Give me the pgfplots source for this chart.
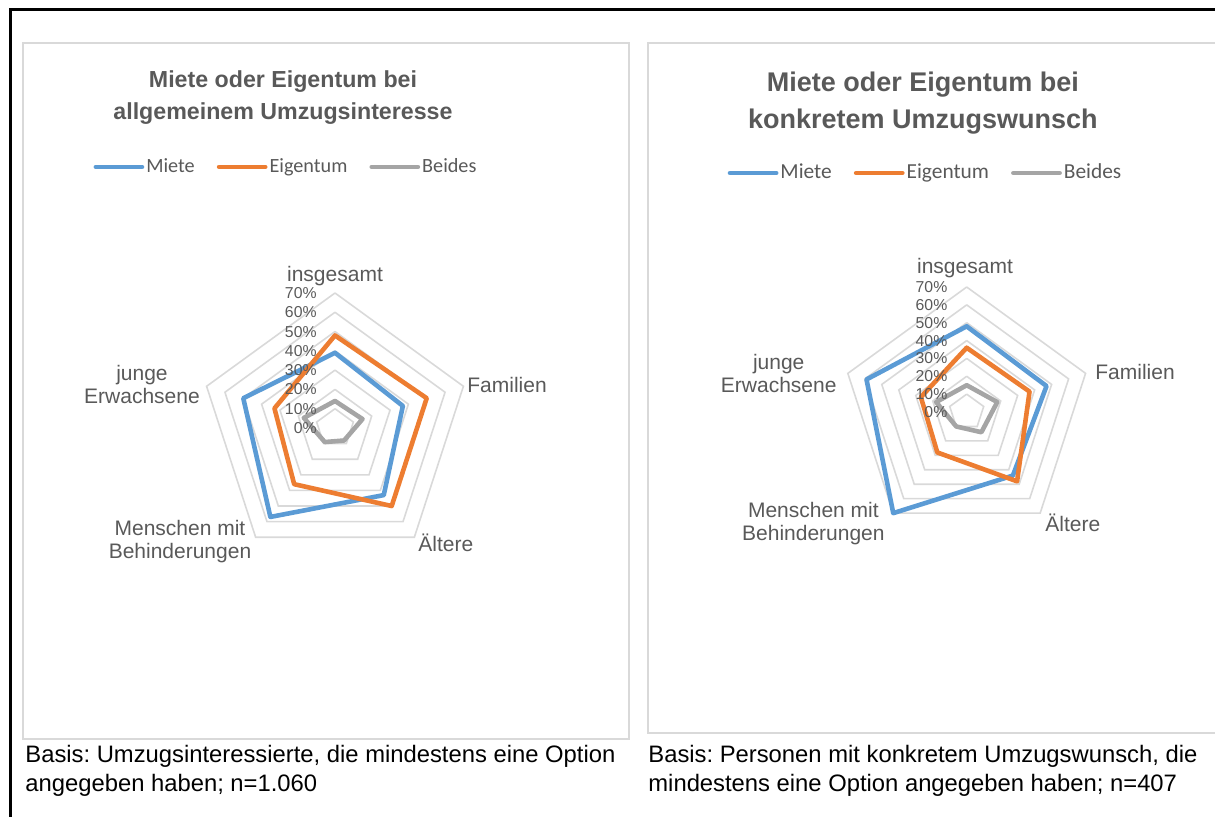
\documentclass[border=0pt]{standalone}
\usepackage{fontspec}
\setmainfont{Liberation Sans}
\newfontfamily\carlito{Carlito}
\usepackage{pgfplots}
\pgfplotsset{compat=1.18}
\usepgfplotslibrary{polar}
\definecolor{miete}{HTML}{5B9BD5}
\definecolor{eigen}{HTML}{ED7D31}
\definecolor{beides}{HTML}{A5A5A5}
\definecolor{gridc}{HTML}{D9D9D9}
\definecolor{txt}{HTML}{595959}
\pgfplotsset{
  radar/.style={
    scale only axis, width=#1, height=#1,
    xmin=0, xmax=360, ymin=0, ymax=70,
    axis line style={draw=none}, xtick=\empty, ytick=\empty,
    clip=false, anchor=origin,
    legend columns=3,
    legend cell align=left,
    legend style={draw=none, fill=none, text=txt, anchor=center,
      nodes={inner sep=1pt},
      /tikz/every even column/.append style={column sep=10pt}},
    legend image code/.code={\draw[##1, line width=2.4pt, line cap=round] (0pt,0pt) -- (23pt,0pt);},
  },
  gridline/.style={gridc, line width=0.8pt, forget plot},
  series/.style={#1, line width=2.3pt, line join=round, line cap=round},
}
\newcommand{\tickf}{\fontsize{7.9}{9}\selectfont}
\newcommand{\catf}{\fontsize{10.5}{11.5}\selectfont}
\frenchspacing
\begin{document}
\frenchspacing
\begin{tikzpicture}[x=0.5pt,y=0.5pt]
\clip (0,0) rectangle (1215,816);
\coordinate (cL) at (335,388);
\coordinate (cR) at (966.7,404);
% boxes and frame
\draw[gridc, line width=0.75pt] (23,773) rectangle (629,77);
\draw[gridc, line width=0.75pt] (648,773) rectangle (1240,83);
\draw[black, line width=1.5pt] (10.5,-10) -- (10.5,806.5) -- (1240,806.5);

% ---------------- left chart
\begin{polaraxis}[radar=135pt, at={(cL)},
  legend style={at={(0.3185,1.4667)}, font=\carlito\fontsize{10.1}{12}\selectfont}]
\addplot[gridline] coordinates {(90,10) (18,10) (306,10) (234,10) (162,10) (90,10)};
\addplot[gridline] coordinates {(90,20) (18,20) (306,20) (234,20) (162,20) (90,20)};
\addplot[gridline] coordinates {(90,30) (18,30) (306,30) (234,30) (162,30) (90,30)};
\addplot[gridline] coordinates {(90,40) (18,40) (306,40) (234,40) (162,40) (90,40)};
\addplot[gridline] coordinates {(90,50) (18,50) (306,50) (234,50) (162,50) (90,50)};
\addplot[gridline] coordinates {(90,60) (18,60) (306,60) (234,60) (162,60) (90,60)};
\addplot[gridline] coordinates {(90,70) (18,70) (306,70) (234,70) (162,70) (90,70)};
\addplot[series=miete] coordinates {(90,39) (18,37) (306,43) (234,57) (162,50) (90,39)};
\addlegendentry{Miete}
\addplot[series=eigen] coordinates {(90,48) (18,50) (306,50) (234,36) (162,33) (90,48)};
\addlegendentry{Eigentum}
\addplot[series=beides] coordinates {(90,14) (18,15) (306,8) (234,9) (162,17) (90,14)};
\addlegendentry{Beides}
\foreach \r in {0,10,...,70}{
  \edef\temp{\noexpand\node[anchor=east, inner sep=0pt, font=\noexpand\tickf, text=txt] at ([xshift=-9pt]axis cs:90,\r) {\r\noexpand\%};}
  \temp
}
\node[inner sep=0pt, font=\catf, text=txt] at ([yshift=76pt]axis cs:0,0) {insgesamt};
\node[anchor=west, inner sep=0pt, font=\catf, text=txt] at ([xshift=66pt,yshift=21.5pt]axis cs:0,0) {Familien};
\node[anchor=west, inner sep=0pt, font=\catf, text=txt] at ([xshift=41.5pt,yshift=-57.5pt]axis cs:0,0) {Ältere};
\node[inner sep=0pt, align=center, font=\catf, text=txt] at ([xshift=-77.5pt,yshift=-56.75pt]axis cs:0,0) {Menschen mit\\Behinderungen};
\node[inner sep=0pt, align=center, font=\catf, text=txt] at ([xshift=-96.5pt,yshift=21.9pt]axis cs:0,0) {junge\\Erwachsene};
\node[inner sep=0pt, align=center, font=\bfseries\fontsize{11.6}{16}\selectfont, text=txt] at ([xshift=-26pt,yshift=165pt]axis cs:0,0) {Miete oder Eigentum bei\\allgemeinem Umzugsinteresse};
\end{polaraxis}

% ---------------- right chart
\begin{polaraxis}[radar=125pt, at={(cR)},
  legend style={at={(0.3352,1.456)}, font=\carlito\fontsize{10.7}{12}\selectfont}]
\addplot[gridline] coordinates {(90,10) (18,10) (306,10) (234,10) (162,10) (90,10)};
\addplot[gridline] coordinates {(90,20) (18,20) (306,20) (234,20) (162,20) (90,20)};
\addplot[gridline] coordinates {(90,30) (18,30) (306,30) (234,30) (162,30) (90,30)};
\addplot[gridline] coordinates {(90,40) (18,40) (306,40) (234,40) (162,40) (90,40)};
\addplot[gridline] coordinates {(90,50) (18,50) (306,50) (234,50) (162,50) (90,50)};
\addplot[gridline] coordinates {(90,60) (18,60) (306,60) (234,60) (162,60) (90,60)};
\addplot[gridline] coordinates {(90,70) (18,70) (306,70) (234,70) (162,70) (90,70)};
\addplot[series=miete] coordinates {(90,48) (18,47) (306,44) (234,70) (162,59) (90,48)};
\addlegendentry{Miete}
\addplot[series=eigen] coordinates {(90,36) (18,37) (306,48) (234,28) (162,27) (90,36)};
\addlegendentry{Eigentum}
\addplot[series=beides] coordinates {(90,15) (18,18) (306,14) (234,10) (162,18) (90,15)};
\addlegendentry{Beides}
\foreach \r in {0,10,...,70}{
  \edef\temp{\noexpand\node[anchor=east, inner sep=0pt, font=\noexpand\tickf, text=txt] at ([xshift=-9.5pt]axis cs:90,\r) {\r\noexpand\%};}
  \temp
}
\node[inner sep=0pt, font=\catf, text=txt] at ([xshift=-0.85pt,yshift=72pt]axis cs:0,0) {insgesamt};
\node[anchor=west, inner sep=0pt, font=\catf, text=txt] at ([xshift=64.15pt,yshift=20pt]axis cs:0,0) {Familien};
\node[anchor=west, inner sep=0pt, font=\catf, text=txt] at ([xshift=39.15pt,yshift=-55.5pt]axis cs:0,0) {Ältere};
\node[inner sep=0pt, align=center, font=\catf, text=txt] at ([xshift=-76.65pt,yshift=-55.7pt]axis cs:0,0) {Menschen mit\\Behinderungen};
\node[inner sep=0pt, align=center, font=\catf, text=txt] at ([xshift=-94pt,yshift=19.3pt]axis cs:0,0) {junge\\Erwachsene};
\node[inner sep=0pt, align=center, font=\bfseries\fontsize{13.5}{18.5}\selectfont, text=txt] at ([xshift=-21.95pt,yshift=154.5pt]axis cs:0,0) {Miete oder Eigentum bei\\konkretem Umzugswunsch};
\end{polaraxis}

% footnotes
\begin{scope}[every node/.style={inner sep=0pt, font=\fontsize{11.9}{14}\selectfont, text=black}]
\node[anchor=base west] at (25,54) {Basis: Umzugsinteressierte, die mindestens eine Option};
\node[anchor=base west] at (25,25) {angegeben haben; n=1.060};
\node[anchor=base west] at (648,54) {Basis: Personen mit konkretem Umzugswunsch, die};
\node[anchor=base west] at (648,25) {mindestens eine Option angegeben haben; n=407};
\end{scope}
\end{tikzpicture}
\end{document}
